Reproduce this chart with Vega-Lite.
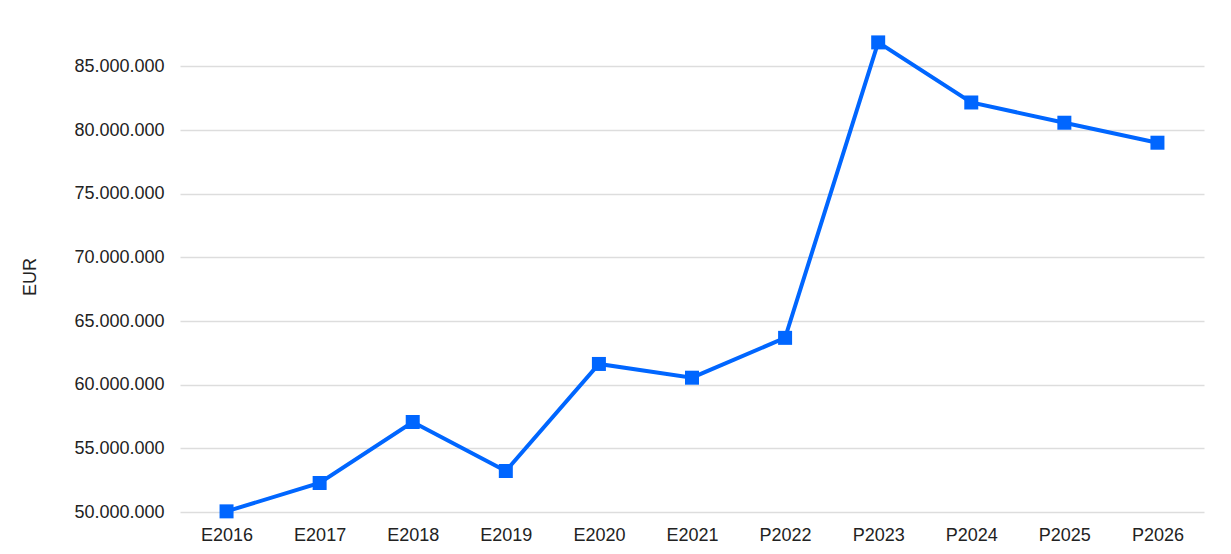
{
  "$schema": "https://vega.github.io/schema/vega-lite/v6.json",
  "width": 1024,
  "height": 471,
  "autosize": {"type": "none"},
  "padding": {"left": 180, "top": 41, "right": 27, "bottom": 42},
  "background": "white",
  "config": {
    "view": {"stroke": null},
    "font": "Liberation Sans",
    "locale": {"number": {"decimal": ",", "thousands": ".", "grouping": [3], "currency": ["", " €"]}}
  },
  "data": {
    "values": [
      {"year": "E2016", "value": 50050000},
      {"year": "E2017", "value": 52280000},
      {"year": "E2018", "value": 57070000},
      {"year": "E2019", "value": 53220000},
      {"year": "E2020", "value": 61630000},
      {"year": "E2021", "value": 60550000},
      {"year": "P2022", "value": 63680000},
      {"year": "P2023", "value": 86890000},
      {"year": "P2024", "value": 82170000},
      {"year": "P2025", "value": 80580000},
      {"year": "P2026", "value": 79010000}
    ]
  },
  "encoding": {
    "x": {
      "field": "year",
      "type": "ordinal",
      "scale": {"type": "point", "padding": 0.5},
      "axis": {
        "title": null,
        "labelAngle": 0,
        "ticks": false,
        "domain": false,
        "labelFontSize": 18,
        "labelColor": "#222222",
        "labelPadding": 14,
        "grid": false
      }
    },
    "y": {
      "field": "value",
      "type": "quantitative",
      "scale": {"domain": [50000000, 87000000], "nice": false, "zero": false},
      "axis": {
        "title": "EUR",
        "titleFontSize": 18,
        "titleFontWeight": "normal",
        "titleColor": "#222222",
        "titlePadding": 34,
        "values": [50000000, 55000000, 60000000, 65000000, 70000000, 75000000, 80000000, 85000000],
        "format": ",d",
        "ticks": false,
        "domain": false,
        "labelFontSize": 18,
        "labelColor": "#222222",
        "labelPadding": 16,
        "gridColor": "#dddddd",
        "gridWidth": 1.5
      }
    }
  },
  "layer": [
    {"mark": {"type": "line", "color": "#0066ff", "strokeWidth": 4, "clip": false}},
    {"mark": {"type": "square", "color": "#0066ff", "opacity": 1, "filled": true, "size": 196, "clip": false}}
  ]
}
